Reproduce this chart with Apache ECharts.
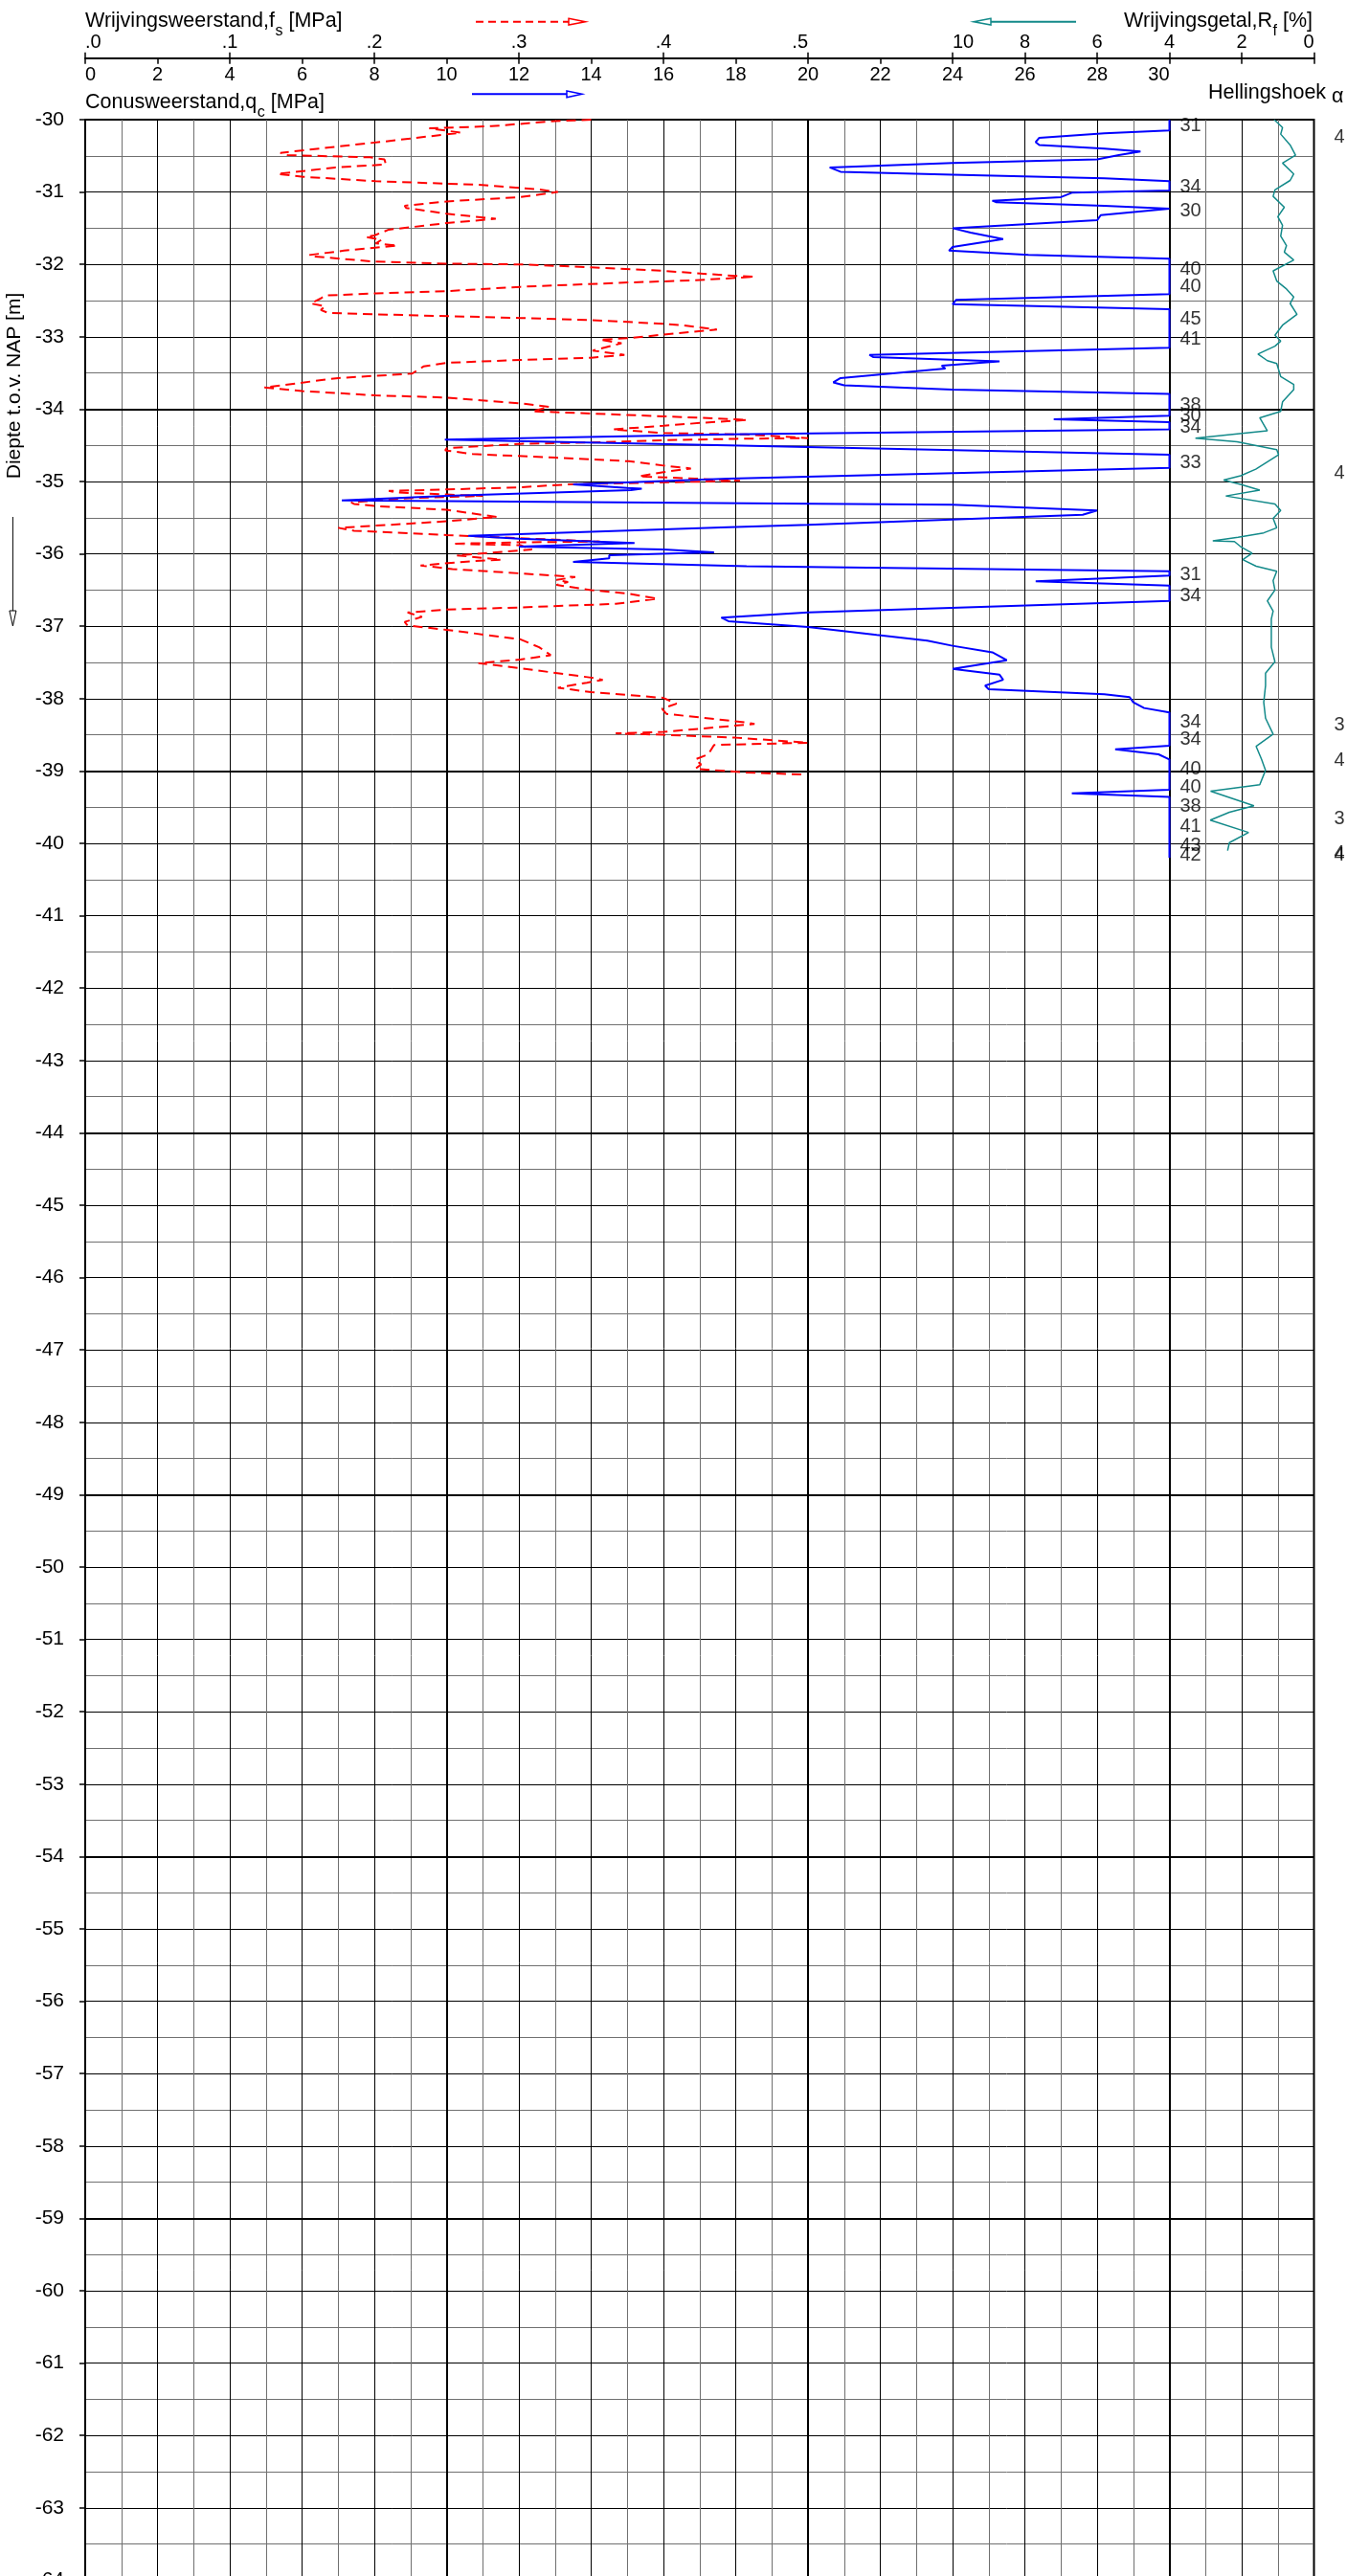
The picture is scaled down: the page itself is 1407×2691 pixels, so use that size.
<!DOCTYPE html>
<html><head><meta charset="utf-8">
<script src="https://cdn.jsdelivr.net/npm/echarts@6/dist/echarts.min.js"></script>
<style>html,body{margin:0;padding:0;background:#fff}#c{width:1407px;height:2691px}</style>
</head><body><div id="c"></div>
<script>
// ---------- DATA ----------
// Cone resistance qc [MPa] (plotted values, clipped at 30 MPa on the chart)
const qcDepth = [-30.00,-30.15,-30.19,-30.25,-30.31,-30.35,-30.40,-30.44,-30.49,-30.55,-30.60,-30.66,-30.72,-30.76,-30.81,-30.85,-30.98,-31.01,-31.07,-31.12,-31.14,-31.19,-31.23,-31.32,-31.39,-31.50,-31.56,-31.65,-31.76,-31.81,-31.87,-31.92,-32.41,-32.49,-32.55,-32.62,-33.15,-33.25,-33.28,-33.34,-33.40,-33.44,-33.57,-33.63,-33.67,-33.73,-33.79,-34.09,-34.14,-34.18,-34.28,-34.35,-34.42,-34.50,-34.63,-34.81,-34.96,-35.04,-35.09,-35.10,-35.12,-35.20,-35.26,-35.27,-35.30,-35.32,-35.40,-35.46,-35.60,-35.63,-35.75,-35.79,-35.85,-35.90,-35.94,-35.98,-36.02,-36.06,-36.11,-36.17,-36.24,-36.30,-36.38,-36.44,-36.65,-36.81,-36.88,-36.93,-37.01,-37.12,-37.20,-37.27,-37.36,-37.47,-37.59,-37.67,-37.74,-37.82,-37.87,-37.94,-37.98,-38.05,-38.13,-38.19,-38.65,-38.70,-38.77,-38.84,-39.26,-39.31,-39.36,-40.20];
const qcValue = [30,30,28.2,26.4,26.3,26.4,28.2,29.2,28.6,28.0,24.0,20.6,20.9,24.0,28.2,30,30,27.3,27.0,25.1,25.2,28.2,30,28.1,28.0,24.0,24.5,25.4,24.0,23.9,26.1,30,30,24.1,24.0,30,30,21.7,21.8,25.3,23.7,23.8,20.9,20.7,21.0,24.0,30,30,26.8,30,30,17.8,9.95,17.8,30,30,17.8,13.5,15.0,15.4,15.1,10.0,7.1,10.0,18.3,24.0,28.0,27.6,20.0,17.8,10.6,12.0,15.2,12.0,16.0,17.4,14.5,14.5,13.5,18.3,30,30,26.3,30,30,20.0,17.6,17.8,20.0,21.9,23.3,24.0,25.1,25.5,24.0,25.3,25.4,24.9,25.0,28.2,28.9,29.0,29.3,30,30,28.5,29.7,30,30,27.3,30,30];

// Sleeve friction fs [MPa]
const fsDepth = [-30.00,-30.02,-30.09,-30.12,-30.18,-30.30,-30.37,-30.46,-30.49,-30.52,-30.55,-30.62,-30.66,-30.75,-30.79,-30.85,-30.90,-30.96,-31.00,-31.07,-31.13,-31.19,-31.22,-31.30,-31.37,-31.43,-31.52,-31.60,-31.62,-31.66,-31.71,-31.74,-31.81,-31.87,-31.89,-31.96,-31.99,-32.00,-32.04,-32.09,-32.16,-32.17,-32.22,-32.25,-32.31,-32.37,-32.40,-32.43,-32.47,-32.54,-32.58,-32.63,-32.67,-32.69,-32.74,-32.77,-32.82,-32.84,-32.90,-32.97,-33.02,-33.04,-33.09,-33.19,-33.25,-33.29,-33.32,-33.36,-33.41,-33.51,-33.57,-33.70,-33.75,-33.81,-33.84,-33.92,-33.97,-34.03,-34.06,-34.10,-34.14,-34.15,-34.19,-34.23,-34.28,-34.33,-34.35,-34.40,-34.41,-34.43,-34.46,-34.48,-34.54,-34.57,-34.62,-34.67,-34.72,-34.78,-34.82,-34.87,-34.93,-34.96,-34.99,-35.04,-35.08,-35.11,-35.13,-35.15,-35.18,-35.20,-35.23,-35.29,-35.31,-35.34,-35.39,-35.49,-35.55,-35.61,-35.64,-35.68,-35.74,-35.77,-35.83,-35.84,-35.86,-35.88,-35.94,-36.02,-36.08,-36.10,-36.16,-36.21,-36.27,-36.30,-36.32,-36.36,-36.39,-36.43,-36.50,-36.55,-36.62,-36.69,-36.74,-36.77,-36.81,-36.87,-36.94,-36.99,-37.05,-37.18,-37.29,-37.40,-37.46,-37.51,-37.58,-37.71,-37.74,-37.78,-37.85,-37.91,-37.99,-38.07,-38.14,-38.21,-38.33,-38.35,-38.46,-38.48,-38.50,-38.54,-38.61,-38.64,-38.77,-38.84,-38.91,-38.97,-39.02,-39.05];
const fsValue = [.350,.325,.281,.238,.260,.208,.175,.135,.140,.197,.207,.208,.173,.133,.151,.201,.272,.312,.327,.301,.250,.221,.222,.250,.284,.250,.210,.200,.194,.205,.201,.216,.179,.155,.158,.199,.250,.301,.350,.400,.450,.463,.422,.376,.301,.250,.201,.166,.163,.156,.166,.163,.168,.201,.301,.350,.400,.413,.437,.400,.376,.356,.371,.351,.373,.350,.301,.250,.234,.226,.175,.124,.150,.201,.250,.301,.321,.309,.350,.400,.450,.458,.426,.400,.365,.400,.457,.500,.450,.400,.350,.301,.250,.249,.268,.325,.376,.400,.419,.400,.383,.422,.453,.334,.301,.250,.210,.215,.250,.275,.223,.184,.186,.201,.250,.285,.250,.201,.175,.186,.250,.285,.356,.301,.254,.301,.309,.257,.288,.268,.232,.254,.301,.325,.339,.326,.334,.326,.350,.376,.396,.367,.301,.250,.223,.233,.221,.223,.250,.301,.314,.322,.301,.272,.301,.350,.358,.347,.327,.350,.400,.409,.399,.402,.457,.463,.400,.367,.400,.450,.500,.435,.431,.422,.426,.422,.457,.497];

// Friction ratio Rf [%]
const rfDepth = [-30.00,-30.11,-30.20,-30.35,-30.49,-30.60,-30.75,-30.84,-30.97,-31.06,-31.21,-31.34,-31.46,-31.61,-31.74,-31.83,-31.94,-32.09,-32.23,-32.34,-32.45,-32.54,-32.69,-32.84,-32.98,-33.06,-33.13,-33.24,-33.33,-33.37,-33.55,-33.66,-33.73,-33.90,-34.03,-34.12,-34.30,-34.40,-34.45,-34.56,-34.63,-34.83,-34.92,-34.98,-35.04,-35.12,-35.20,-35.31,-35.40,-35.51,-35.64,-35.71,-35.77,-35.82,-35.83,-35.90,-35.99,-36.08,-36.17,-36.24,-36.37,-36.50,-36.65,-36.79,-36.90,-37.07,-37.29,-37.49,-37.65,-37.82,-38.05,-38.27,-38.49,-38.66,-38.84,-38.99,-39.19,-39.28,-39.48,-39.57,-39.68,-39.85,-39.99,-40.10];
const rfValue = [1.10,0.87,0.92,0.66,0.51,0.87,0.56,0.66,1.08,1.13,0.82,1.00,0.87,0.92,0.76,0.82,0.56,1.13,1.03,0.76,0.56,0.66,0.47,0.87,1.08,0.92,1.08,1.55,1.29,1.03,0.92,0.56,0.56,0.87,0.92,1.50,1.29,3.28,2.13,1.03,0.98,1.61,2.03,2.50,2.03,1.50,2.44,1.08,0.92,1.13,1.03,1.39,2.10,2.80,2.20,2.03,1.71,1.97,1.60,1.03,1.13,1.08,1.29,1.13,1.18,1.18,1.18,1.08,1.34,1.34,1.39,1.34,1.13,1.60,1.45,1.34,1.50,2.86,1.66,2.34,2.87,1.81,2.34,2.39];

// qc peak values (above 30 MPa) printed next to the chart edge
const qcClip = 30;
const peakDepth = [-30.09,-30.93,-31.26,-32.07,-32.31,-32.76,-33.03,-33.95,-34.10,-34.25,-34.74,-36.29,-36.58,-38.32,-38.57,-38.97,-39.22,-39.49,-39.77,-40.03,-40.16];
const peakText  = ['31','34','30','40','40','45','41','38','30','34','33','31','34','34','34','40','40','38','41','43','42'];

// Hellingshoek values at the right margin (cut off at page edge)
const alphaDepth = [-30.25,-34.89,-38.37,-38.86,-39.66,-40.14,-40.17];
const alphaText  = ['4','4','3','4','3','4','4'];

// axis ticks
const qcTicks = [0,2,4,6,8,10,12,14,16,18,20,22,24,26,28,30];
const fsTicks = [0,0.1,0.2,0.3,0.4,0.5];
const rfTicks = [0,2,4,6,8,10];
const thickQc = [10,20,30];
const thickDepth = [-34,-39,-44,-49,-54,-59,-64];

// ---------- CHART ----------
const F = '"Liberation Sans", Arial, sans-serif';
const mctx = document.createElement('canvas').getContext('2d');
function tw(t, s){ mctx.font = s + 'px "Liberation Sans"'; return mctx.measureText(t).width; }

const graphics = [];
function addText(t, x, y, size, align, extra){
  graphics.push(Object.assign({type:'text', x:x, y:y, silent:true,
    style:{text:t, fontSize:size, fontFamily:F, fill:'#000', align:align||'left', verticalAlign:'middle'}}, extra||{}));
}
const TS = 21.5, SS = 16;
(function(){
  let x = 89;
  addText('Wrijvingsweerstand,f', x, 22.5, TS); x += tw('Wrijvingsweerstand,f', TS) + 0.5;
  addText('s', x, 33, SS); x += tw('s', SS);
  addText(' [MPa]', x, 22.5, TS);
  x = 89;
  addText('Conusweerstand,q', x, 107.5, TS); x += tw('Conusweerstand,q', TS) + 0.5;
  addText('c', x, 117.5, SS); x += tw('c', SS);
  addText(' [MPa]', x, 107.5, TS);
  let xr = 1371;
  xr -= tw(' [%]', TS); addText(' [%]', xr, 22.5, TS);
  xr -= tw('f', SS); addText('f', xr, 33, SS);
  addText('Wrijvingsgetal,R', xr - 0.5, 22.5, TS, 'right');
  addText('Hellingshoek', 1262, 97, TS);
  addText('α', 1262 + tw('Hellingshoek ', TS), 101, TS);
  addText('Diepte t.o.v. NAP [m]', 15.6, 403, 21, 'center', {rotation: Math.PI/2});
})();
graphics.push({type:'line', silent:true, shape:{x1:497, y1:22.7, x2:594, y2:22.7}, style:{stroke:'#ff0000', lineWidth:2, lineDash:[8,5]}});
graphics.push({type:'polygon', silent:true, shape:{points:[[594,19.3],[611.5,22.7],[594,26.1]]}, style:{stroke:'#ff0000', fill:'#fff', lineWidth:1.5}});
graphics.push({type:'line', silent:true, shape:{x1:493, y1:98.3, x2:592, y2:98.3}, style:{stroke:'#0000ff', lineWidth:2}});
graphics.push({type:'polygon', silent:true, shape:{points:[[592,94.9],[608,98.3],[592,101.7]]}, style:{stroke:'#0000ff', fill:'#fff', lineWidth:1.5}});
graphics.push({type:'line', silent:true, shape:{x1:1124, y1:22.7, x2:1035, y2:22.7}, style:{stroke:'#138a8a', lineWidth:2}});
graphics.push({type:'polygon', silent:true, shape:{points:[[1035,19.3],[1017,22.7],[1035,26.1]]}, style:{stroke:'#138a8a', fill:'#fff', lineWidth:1.5}});
graphics.push({type:'line', silent:true, shape:{x1:13.4, y1:540, x2:13.4, y2:640}, style:{stroke:'#000', lineWidth:1}});
graphics.push({type:'polygon', silent:true, shape:{points:[[9.9,638],[13.4,654],[16.9,638]]}, style:{stroke:'#000', fill:'#fff', lineWidth:1}});

const fsData = fsDepth.map((d,i)=>[fsValue[i], d]);
const qcData = qcDepth.map((d,i)=>[qcValue[i], d]);
const rfData = rfDepth.map((d,i)=>[rfValue[i], d]);
const peakData = peakDepth.map((d,i)=>[qcClip, d, peakText[i]]);
const alphaData = alphaDepth.map((d,i)=>[0, d, alphaText[i]]);

const AX_OFF = 64.3;
const MINOR = '#707070';
const lbl = {fontSize:20, color:'#000', fontFamily:F};
const option = {
  animation:false,
  backgroundColor:'#fff',
  textStyle:{fontFamily:F},
  grid:{left:89, top:125, width:1283.5, height:2570.4, show:true, borderColor:'#000', borderWidth:2,
        backgroundColor:'rgba(0,0,0,0)', containLabel:false, outerBoundsMode:'none'},
  xAxis:[
    { type:'value', min:0, max:34, interval:2, position:'top', offset:AX_OFF,
      axisLine:{show:true, onZero:false, lineStyle:{color:'#000', width:2}},
      axisTick:{show:true, inside:true, length:6, lineStyle:{color:'#000', width:1.5}},
      axisLabel:Object.assign({show:true, inside:true, margin:8, customValues:qcTicks, alignMinLabel:'left', alignMaxLabel:'right'}, lbl),
      splitLine:{show:true, lineStyle:{color:'#000', width:1}},
      minorTick:{show:false, splitNumber:2},
      minorSplitLine:{show:true, lineStyle:{color:MINOR, width:1}} },
    { type:'value', min:0, max:0.85, interval:0.1, position:'top', offset:AX_OFF,
      axisLine:{show:false, onZero:false},
      axisTick:{show:true, inside:false, length:6, customValues:fsTicks, lineStyle:{color:'#000', width:1.5}},
      axisLabel:Object.assign({show:true, margin:6, customValues:fsTicks, alignMinLabel:'left', alignMaxLabel:'right',
        formatter:v=>'.'+Math.round(v*10)}, lbl),
      splitLine:{show:false} },
    { type:'value', min:0, max:34, interval:2, inverse:true, position:'top', offset:AX_OFF,
      axisLine:{show:false, onZero:false},
      axisTick:{show:true, inside:false, length:6, customValues:rfTicks, lineStyle:{color:'#000', width:1.5}},
      axisLabel:Object.assign({show:true, margin:6, customValues:rfTicks, alignMinLabel:'right', alignMaxLabel:'left'}, lbl),
      splitLine:{show:false} }
  ],
  yAxis:{ type:'value', min:-64, max:-30, interval:1,
    axisLine:{show:true, onZero:false, lineStyle:{color:'#000', width:2}},
    axisTick:{show:true, length:6, lineStyle:{color:'#000', width:1.5}},
    axisLabel:{fontSize:21, margin:22, color:'#000', fontFamily:F},
    splitLine:{show:true, lineStyle:{color:'#000', width:1}},
    minorTick:{show:false, splitNumber:2},
    minorSplitLine:{show:true, lineStyle:{color:MINOR, width:1}} },
  graphic:graphics,
  series:[
    { type:'line', name:'fs', xAxisIndex:1, yAxisIndex:0, data:fsData, symbol:'none', showSymbol:false, silent:true,
      lineStyle:{color:'#ff0000', width:2, type:[10,6]} },
    { type:'line', name:'qc', xAxisIndex:0, yAxisIndex:0, data:qcData, symbol:'none', showSymbol:false, silent:true,
      lineStyle:{color:'#0000ff', width:2},
      markLine:{silent:true, z:1, symbol:['none','none'], label:{show:false}, animation:false,
        lineStyle:{color:'#000', width:2, type:'solid'}, emphasis:{disabled:true},
        data: thickQc.map(v=>({xAxis:v})).concat(thickDepth.map(v=>({yAxis:v}))) } },
    { type:'line', name:'Rf', xAxisIndex:2, yAxisIndex:0, data:rfData, symbol:'none', showSymbol:false, silent:true,
      lineStyle:{color:'#138a8a', width:1.5} },
    { type:'scatter', xAxisIndex:0, yAxisIndex:0, data:peakData, symbolSize:0, silent:true, clip:false,
      itemStyle:{color:'rgba(0,0,0,0)'},
      label:Object.assign({show:true, position:'right', distance:11, formatter:p=>p.value[2]}, lbl) },
    { type:'scatter', xAxisIndex:2, yAxisIndex:0, data:alphaData, symbolSize:0, silent:true, clip:false,
      itemStyle:{color:'rgba(0,0,0,0)'},
      label:Object.assign({show:true, position:'right', distance:21, formatter:p=>p.value[2]}, lbl) }
  ]
};
const chart = echarts.init(document.getElementById('c'), null, {renderer:'canvas'});
chart.setOption(option);
</script>
</body></html>
